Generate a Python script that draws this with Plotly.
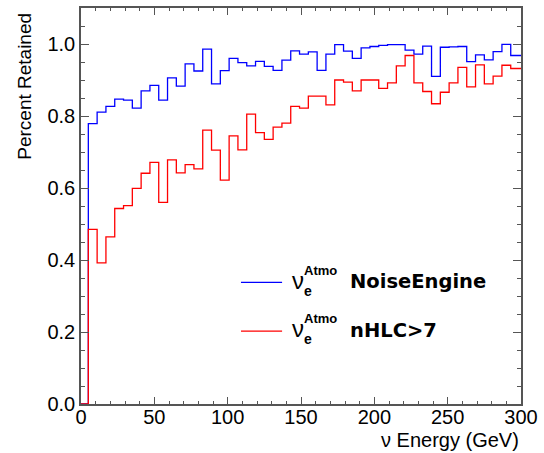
import numpy as np
import plotly.graph_objects as go

# ── Data ─────────────────────────────────────────────────────────────────────
# 6 GeV bins starting at 5 GeV
bin_width = 6
first_edge = 5
noise_engine = [
    0.779, 0.811, 0.827, 0.847, 0.844, 0.822, 0.870, 0.885, 0.844, 0.906,
    0.883, 0.945, 0.925, 0.986, 0.889, 0.926, 0.960, 0.948, 0.939, 0.952,
    0.938, 0.927, 0.955, 0.981, 0.972, 0.978, 0.927, 0.972, 0.998, 0.980,
    0.960, 0.989, 0.993, 0.996, 0.998, 0.998, 0.983, 0.972, 0.994, 0.910,
    0.991, 0.992, 0.993, 0.951, 0.970, 0.956, 0.979, 0.999, 0.968,
]
nhlc7 = [
    0.485, 0.392, 0.464, 0.543, 0.551, 0.599, 0.641, 0.671, 0.560, 0.678,
    0.642, 0.665, 0.653, 0.761, 0.705, 0.622, 0.745, 0.706, 0.805, 0.754,
    0.735, 0.769, 0.780, 0.827, 0.822, 0.855, 0.855, 0.831, 0.900, 0.894,
    0.870, 0.900, 0.900, 0.877, 0.892, 0.939, 0.968, 0.892, 0.868, 0.834,
    0.866, 0.892, 0.935, 0.881, 0.942, 0.889, 0.911, 0.941, 0.932,
]
x_range = [0, 300]
y_range = [0, 1.1]

FONT = "Liberation Sans, Arial, sans-serif"
W, H = 544, 453
L, R, T, B = 81, 21, 6, 49


def px(x):
    return (x - L) / (W - L - R)


def py(y):
    return (H - B - y) / (H - T - B)


def step_xy(values):
    lo = first_edge + bin_width * np.arange(len(values))
    xs = [x_range[0]] + list(lo) + [x_range[1]]
    ys = [0] + list(values) + [values[-1]]
    return xs, ys


fig = go.Figure()
for vals, col in [(noise_engine, "#0000ff"), (nhlc7, "#ff0000")]:
    xs, ys = step_xy(vals)
    fig.add_trace(go.Scatter(x=xs, y=ys, mode="lines", line_shape="hv",
                             line=dict(color=col, width=1.3),
                             showlegend=False, hoverinfo="skip"))

axis_common = dict(
    showgrid=False, zeroline=False, showline=True, mirror="ticks",
    linecolor="#555555", linewidth=1.6, ticks="inside", tickcolor="#555555",
    tickwidth=1, tickfont=dict(family=FONT, size=20, color="black"),
)
fig.update_xaxes(range=x_range, dtick=50, ticklen=7,
                 minor=dict(dtick=10, ticks="inside", ticklen=3.5,
                            tickcolor="#555555"),
                 ticklabelstandoff=-6, **axis_common)
fig.update_yaxes(range=y_range, tick0=0, dtick=0.2, tickformat=".1f",
                 ticklen=8,
                 minor=dict(dtick=0.05, ticks="inside", ticklen=4,
                            tickcolor="#555555"),
                 ticklabelstandoff=0, **axis_common)

ann = []
ann.append(dict(text="Percent Retained", x=px(24), y=py(9), xref="paper",
                yref="paper", textangle=-90, xanchor="center", yanchor="top",
                showarrow=False, font=dict(family=FONT, size=19, color="black")))
ann.append(dict(text="\u03bd Energy (GeV)", x=px(523), y=py(440),
                xref="paper", yref="paper", xanchor="right", yanchor="middle",
                showarrow=False, font=dict(family=FONT, size=20, color="black")))

# legend built by hand (ROOT-style TLegend)
legend = [("NoiseEngine", "#0000ff", 0), ("nHLC>7", "#ff0000", 49)]
for label, col, dy in legend:
    fig.add_shape(type="line", xref="paper", yref="paper",
                  x0=px(241.7), x1=px(283), y0=py(281.7 + dy), y1=py(281.7 + dy),
                  line=dict(color=col, width=1.3))
    parts = [
        ("\u03bd", 291.5, 288 - 0.35 * 24 + dy, 24, False),
        ("Atmo", 304, 274 - 0.35 * 13 + dy, 13, True),
        ("e", 304.5, 295 - 0.35 * 14 + dy, 14, True),
    ]
    for t, x, y, s, bold in parts:
        ann.append(dict(text=f"<b>{t}</b>" if bold else t, x=px(x), y=py(y),
                        xref="paper", yref="paper", xanchor="left",
                        yanchor="middle", showarrow=False, borderpad=0,
                        font=dict(family=FONT, size=s, color="black")))
    ann.append(dict(text=f"<b>{label.replace('>', '&gt;')}</b>", x=px(350),
                    y=py(288 - 0.35 * 19.5 + dy), xref="paper", yref="paper",
                    xanchor="left", yanchor="middle", showarrow=False,
                    borderpad=0,
                    font=dict(family="DejaVu Sans", size=19.5, color="black")))

fig.update_layout(
    width=W, height=H, margin=dict(l=L, r=R, t=T, b=B),
    paper_bgcolor="white", plot_bgcolor="white", annotations=ann,
    showlegend=False,
)

fig.write_html("out.html", config={"displayModeBar": False},
               post_script="document.body.style.margin='0';")
